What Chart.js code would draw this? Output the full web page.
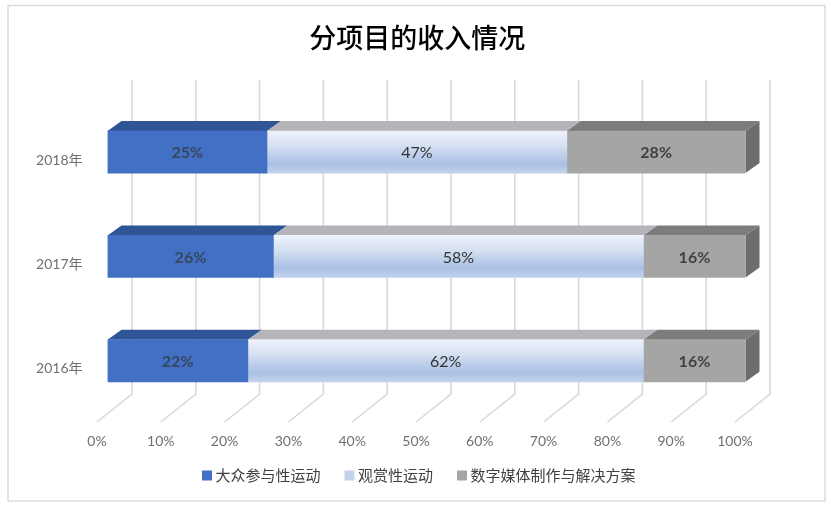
<!DOCTYPE html>
<html><head><meta charset="utf-8">
<style>html,body{margin:0;padding:0;background:#fff}#w{width:831px;height:509px}canvas{display:block}</style>
<script src="https://cdn.jsdelivr.net/npm/chart.js@4/dist/chart.umd.min.js"></script>
</head><body><div id="w"><canvas id="c" width="831" height="509"></canvas></div>
<script>
const categories = ['2018年','2017年','2016年'];
const seriesNames = ['大众参与性运动','观赏性运动','数字媒体制作与解决方案'];
const massSports = [25,26,22];
const spectatorSports = [47,58,62];
const digitalMedia = [28,16,16];
const chartTitle = '分项目的收入情况';
const LATIN = '"Lato","Noto Sans CJK SC",sans-serif';
const CJK = '"Noto Sans CJK SC",sans-serif';
const DX = 14, DY = 10;
const topColors = ['#2f5597','#b5b5b9','#7c7c7c'];
const labelStyles = [['#37475f','bold'],['#333333','normal'],['#404040','bold']];

function midGradient(ctx){
  const chart = ctx.chart, y = chart.scales.y;
  if(!y || ctx.dataIndex === undefined) return '#c3d3ec';
  const c = y.getPixelForValue(ctx.dataIndex);
  const g = chart.ctx.createLinearGradient(0,c-21,0,c+21);
  g.addColorStop(0,'#eef2fa');
  g.addColorStop(0.35,'#d5e0f2');
  g.addColorStop(0.78,'#a9c0e5');
  g.addColorStop(1,'#c2d2ec');
  return g;
}

const depthPlugin = {
  id:'depth',
  afterLayout(chart){
    chart.titleBlock.right += 81;
    chart.legend.left += 44;
    chart.legend.right += 44;
    chart.scales.x.bottom += 24;
  },
  beforeDraw(chart){
    const c = chart.ctx;
    c.save();
    c.fillStyle='#fff'; c.fillRect(0,0,chart.width,chart.height);
    c.strokeStyle='#dcdcdc'; c.lineWidth=1.5;
    c.strokeRect(8,5.5,817,495.5);
    c.restore();
  },
  beforeDatasetsDraw(chart){
    const c = chart.ctx, x = chart.scales.x, area = chart.chartArea;
    const wallTop = area.top-20, wallBottom = area.bottom-19;
    c.save();
    c.strokeStyle='#d9d9d9'; c.lineWidth=1.6;
    x.ticks.forEach(t=>{
      const px = x.getPixelForValue(t.value)+24.5;
      c.beginPath();
      c.moveTo(px,wallTop); c.lineTo(px,wallBottom); c.lineTo(px-35,wallBottom+28);
      c.stroke();
    });
    chart.data.datasets.forEach((ds,i)=>{
      chart.getDatasetMeta(i).data.forEach(bar=>{
        const p = bar.getProps(['x','y','base','height'],true);
        const t = p.y-p.height/2;
        c.fillStyle = topColors[i];
        c.beginPath();
        c.moveTo(p.base,t); c.lineTo(p.base+DX,t-DY); c.lineTo(p.x+DX,t-DY); c.lineTo(p.x,t);
        c.closePath(); c.fill();
        if(i===chart.data.datasets.length-1){
          c.fillStyle='#6d6d6d';
          const b = t+p.height;
          c.beginPath();
          c.moveTo(p.x,t); c.lineTo(p.x+DX,t-DY); c.lineTo(p.x+DX,b-DY); c.lineTo(p.x,b);
          c.closePath(); c.fill();
        }
      });
    });
    c.restore();
  },
  afterDatasetsDraw(chart){
    const c = chart.ctx;
    c.save();
    c.textAlign='center'; c.textBaseline='middle';
    chart.data.datasets.forEach((ds,i)=>{
      chart.getDatasetMeta(i).data.forEach((bar,j)=>{
        const p = bar.getProps(['x','y','base'],true);
        c.fillStyle = labelStyles[i][0];
        c.font = labelStyles[i][1]+' 16px '+LATIN;
        c.fillText(ds.data[j]+'%',(p.x+p.base)/2,p.y+1);
      });
    });
    c.restore();
  }
};

new Chart(document.getElementById('c'),{
  type:'bar',
  data:{labels:categories,datasets:[
    {label:seriesNames[0],data:massSports,backgroundColor:'#4270c4'},
    {label:seriesNames[1],data:spectatorSports,backgroundColor:midGradient},
    {label:seriesNames[2],data:digitalMedia,backgroundColor:'#a5a5a5'}
  ]},
  options:{
    indexAxis:'y',responsive:false,animation:false,devicePixelRatio:1,
    layout:{padding:{left:8,right:85.5,top:0,bottom:16}},
    datasets:{bar:{barThickness:42}},
    scales:{
      x:{stacked:true,min:0,max:100,
        afterFit(s){s.height=27;},
        grid:{display:false},border:{display:false},
        ticks:{stepSize:10,maxRotation:0,autoSkip:false,padding:12,labelOffset:-10.5,color:'#707070',
          font:{family:LATIN,size:14},callback:v=>v+'%'}},
      y:{stacked:true,
        afterFit(s){s.width=99.5;},
        grid:{display:false},border:{display:false},
        ticks:{padding:17,labelOffset:8,color:'#707070',font:{family:LATIN,size:14}}}
    },
    plugins:{
      title:{display:true,text:chartTitle,color:'#000',font:{family:CJK,size:27,weight:'500'},padding:{top:22,bottom:45.5}},
      tooltip:{enabled:false},
      legend:{position:'bottom',
        labels:{boxWidth:2,boxHeight:2,padding:28,color:'#404040',font:{family:CJK,size:15},
          generateLabels(chart){
            const cols=['#4270c4','#c3d3ec','#a5a5a5'];
            return chart.data.datasets.map((d,i)=>({text:d.label,fillStyle:cols[i],strokeStyle:cols[i],lineWidth:8,lineJoin:'miter',datasetIndex:i,fontColor:'#404040'}));
          }}}
    }
  },
  plugins:[depthPlugin]
});
</script></body></html>
